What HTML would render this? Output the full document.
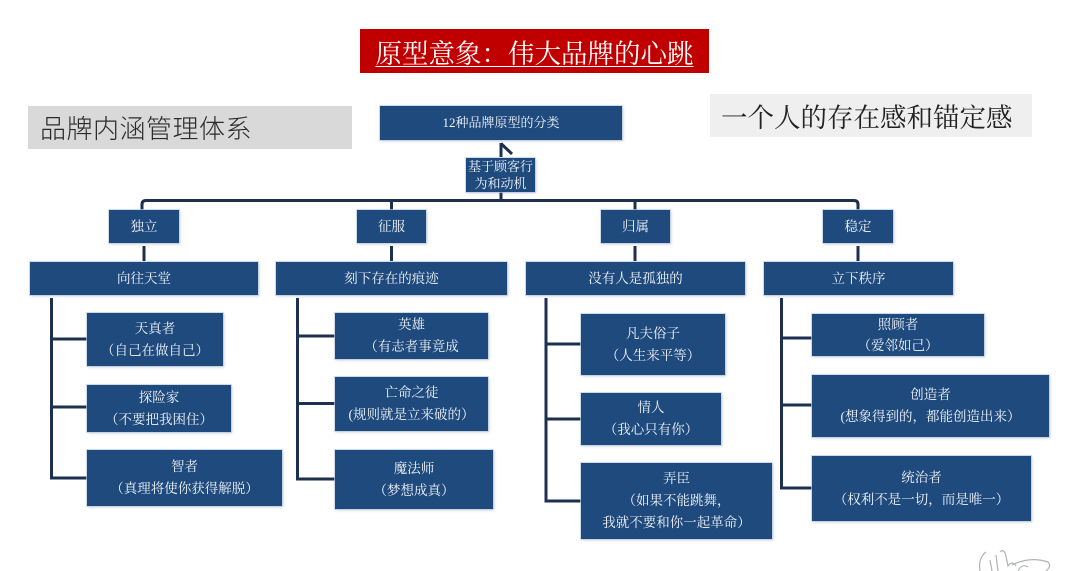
<!DOCTYPE html>
<html>
<head>
<meta charset="utf-8">
<style>
  html,body{margin:0;padding:0;background:#ffffff;}
  body{width:1080px;height:571px;position:relative;overflow:hidden;}
  .b{position:absolute;background:#1f4a7e;color:#f2f5f9;
     font-family:"Liberation Serif","Noto Serif CJK SC",serif;
     font-size:13.5px;line-height:22px;text-align:center;
     display:flex;flex-direction:column;justify-content:center;align-items:center;
     box-shadow:0 0 0 1px rgba(190,205,225,0.7),1px 1px 3px rgba(80,100,130,0.35);
     white-space:nowrap;}
  .b span{display:block;}
  svg{position:absolute;left:0;top:0;}
</style>
</head>
<body>

<!-- title -->
<div style="position:absolute;left:360px;top:29px;width:349px;height:44px;background:#c00000;"></div>
<div style="position:absolute;left:360px;top:29px;width:349px;height:44px;display:flex;align-items:center;justify-content:center;color:#ffffff;font-family:'Liberation Serif','Noto Serif CJK SC',serif;font-size:26.5px;text-decoration:underline;text-decoration-thickness:1px;text-underline-offset:3px;white-space:nowrap;">原型意象：伟大品牌的心跳</div>

<!-- left gray -->
<div style="position:absolute;left:28px;top:106px;width:324px;height:43px;background:#d9d9d9;"></div>
<div style="position:absolute;left:40px;top:106px;height:43px;display:flex;align-items:center;color:#2a2a2a;font-family:'Liberation Sans','Noto Sans CJK SC',sans-serif;font-weight:300;font-size:26px;letter-spacing:0.5px;white-space:nowrap;">品牌内涵管理体系</div>

<!-- right gray -->
<div style="position:absolute;left:710px;top:94px;width:322px;height:43px;background:#efefef;"></div>
<div style="position:absolute;left:721px;top:94px;height:43px;display:flex;align-items:center;color:#222;font-family:'Liberation Serif','Noto Serif CJK SC',serif;font-size:26.5px;white-space:nowrap;">一个人的存在感和锚定感</div>

<!-- lines -->
<svg width="1080" height="571" viewBox="0 0 1080 571">
  <g stroke="#1d3050" stroke-width="3" fill="none" stroke-linecap="butt">
    <path d="M142,210 V204.5 Q142,200.5 146,200.5 H854 Q858,200.5 858,204.5 V210"/>
    <line x1="391.5" y1="200" x2="391.5" y2="210"/>
    <line x1="635" y1="200" x2="635" y2="210"/>
    <line x1="501" y1="192" x2="501" y2="201"/>
    <line x1="501" y1="143" x2="501" y2="157"/>
    <line x1="501" y1="143.5" x2="512" y2="154"/>
    <line x1="144" y1="246" x2="144" y2="261"/>
    <line x1="391.5" y1="246" x2="391.5" y2="261"/>
    <line x1="635" y1="246" x2="635" y2="261"/>
    <line x1="858" y1="246" x2="858" y2="261"/>
    <!-- group 1 -->
    <path d="M51.5,298 V478 H87"/>
    <line x1="51.5" y1="339" x2="87" y2="339"/>
    <line x1="51.5" y1="407" x2="87" y2="407"/>
    <!-- group 2 -->
    <path d="M297.5,298 V479 H335"/>
    <line x1="297.5" y1="336" x2="335" y2="336"/>
    <line x1="297.5" y1="403.5" x2="335" y2="403.5"/>
    <!-- group 3 -->
    <path d="M546,298 V501 H581"/>
    <line x1="546" y1="344" x2="581" y2="344"/>
    <line x1="546" y1="419" x2="581" y2="419"/>
    <!-- group 4 -->
    <path d="M781.5,298 V488 H812"/>
    <line x1="781.5" y1="338" x2="812" y2="338"/>
    <line x1="781.5" y1="405" x2="812" y2="405"/>
  </g>
  <!-- signature scribble -->
  <g stroke="#9aa0a8" stroke-width="1.2" fill="none" opacity="0.8">
    <path d="M986,552 Q978,558 980,571"/>
    <path d="M990,560 L992,571 M996,555 L998,571"/>
    <path d="M1000,552 Q1004,548 1006,556 L1008,566 Q1012,560 1016,566"/>
    <path d="M1012,565 Q1030,556 1048,562 Q1052,566 1046,571"/>
    <path d="M1018,571 Q1022,563 1028,567"/>
  </g>
</svg>

<!-- top nodes -->
<div class="b" style="left:380px;top:106px;width:242px;height:34px;font-size:13px;"><span>12种品牌原型的分类</span></div>
<div class="b" style="left:466px;top:158px;width:69px;height:34px;font-size:13px;line-height:17px;"><span>基于顾客行</span><span>为和动机</span></div>

<!-- categories -->
<div class="b" style="left:109px;top:210px;width:70px;height:33px;"><span>独立</span></div>
<div class="b" style="left:357px;top:210px;width:69px;height:33px;"><span>征服</span></div>
<div class="b" style="left:601px;top:210px;width:69px;height:33px;"><span>归属</span></div>
<div class="b" style="left:823px;top:210px;width:70px;height:33px;"><span>稳定</span></div>

<!-- level 2 -->
<div class="b" style="left:30px;top:262px;width:228px;height:33px;"><span>向往天堂</span></div>
<div class="b" style="left:276px;top:262px;width:231px;height:33px;"><span>刻下存在的痕迹</span></div>
<div class="b" style="left:526px;top:262px;width:219px;height:33px;"><span>没有人是孤独的</span></div>
<div class="b" style="left:764px;top:262px;width:189px;height:33px;"><span>立下秩序</span></div>

<!-- group 1 -->
<div class="b" style="left:87px;top:313px;width:136px;height:53px;"><span>天真者</span><span>（自己在做自己）</span></div>
<div class="b" style="left:87px;top:385px;width:144px;height:47px;"><span>探险家</span><span>（不要把我困住）</span></div>
<div class="b" style="left:87px;top:450px;width:195px;height:56px;"><span>智者</span><span>（真理将使你获得解脱）</span></div>

<!-- group 2 -->
<div class="b" style="left:335px;top:313px;width:153px;height:46px;"><span>英雄</span><span>（有志者事竟成</span></div>
<div class="b" style="left:335px;top:377px;width:153px;height:54px;"><span>亡命之徒</span><span>(规则就是立来破的）</span></div>
<div class="b" style="left:335px;top:450px;width:158px;height:59px;"><span>魔法师</span><span>（梦想成真）</span></div>

<!-- group 3 -->
<div class="b" style="left:581px;top:314px;width:144px;height:61px;"><span>凡夫俗子</span><span>（人生来平等）</span></div>
<div class="b" style="left:581px;top:393px;width:140px;height:52px;"><span>情人</span><span>（我心只有你）</span></div>
<div class="b" style="left:581px;top:463px;width:191px;height:76px;"><span>弄臣</span><span>（如果不能跳舞，</span><span>我就不要和你一起革命）</span></div>

<!-- group 4 -->
<div class="b" style="left:812px;top:314px;width:172px;height:42px;line-height:21px;"><span>照顾者</span><span>（爱邻如己）</span></div>
<div class="b" style="left:812px;top:375px;width:237px;height:62px;"><span>创造者</span><span>(想象得到的，都能创造出来）</span></div>
<div class="b" style="left:812px;top:456px;width:219px;height:65px;"><span>统治者</span><span>（权利不是一切，而是唯一）</span></div>

</body>
</html>
